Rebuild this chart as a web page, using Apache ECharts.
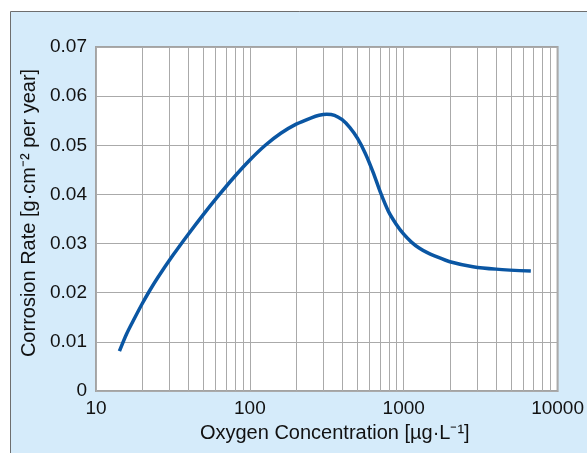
<!DOCTYPE html>
<html>
<head>
<meta charset="utf-8">
<script src="https://cdn.jsdelivr.net/npm/echarts@6/dist/echarts.min.js"></script>
<style>
html,body{margin:0;padding:0;background:#fff;}
#chart{width:587px;height:453px;}
</style>
</head>
<body>
<div id="chart"></div>
<script>
// Oxygen concentration (µg/L) and corrosion rate (g·cm^-2 per year)
var oxygen = [14.2, 15.8, 17.8, 20.0, 22.4, 25.1, 31.6, 39.8, 50.1, 63.1, 79.4, 100, 126, 158, 200, 251, 282, 316, 355, 398, 447, 501, 562, 631, 708, 794, 891, 1000, 1122, 1259, 1413, 1585, 1995, 2818, 3981, 6700];
var corrosion = [0.0081, 0.0116, 0.0148, 0.0178, 0.0205, 0.0230, 0.0276, 0.0319, 0.0360, 0.0399, 0.0436, 0.0470, 0.0500, 0.0524, 0.0543, 0.0556, 0.0561, 0.0563, 0.0561, 0.0552, 0.0536, 0.0514, 0.0484, 0.0446, 0.0403, 0.0366, 0.0340, 0.0319, 0.0303, 0.0291, 0.0282, 0.0275, 0.0263, 0.0253, 0.0248, 0.0244];
var xMajorTicks = [10, 100, 1000, 10000];
var xMinorTicks = [20,30,40,50,60,70,80,90,200,300,400,500,600,700,800,900,2000,3000,4000,5000,6000,7000,8000,9000];
var yTicks = [0, 0.01, 0.02, 0.03, 0.04, 0.05, 0.06, 0.07];

var FONT = '"Liberation Sans", Arial, sans-serif';
var chart = echarts.init(document.getElementById('chart'), null, {renderer: 'canvas'});
var pts = oxygen.map(function (x, i) { return [x, corrosion[i]]; });

chart.setOption({
  animation: false,
  backgroundColor: '#ffffff',
  graphic: [{
    type: 'rect', z: -10, silent: true,
    shape: {x: 10.5, y: 11.5, width: 590, height: 460},
    style: {fill: '#d5ebfa', stroke: '#6e6e6e', lineWidth: 1}
  }],
  grid: {
    left: 96, right: 29, top: 47, bottom: 62,
    show: true, backgroundColor: '#ffffff', borderColor: '#a3a3a3', borderWidth: 2
  },
  xAxis: {
    type: 'log', logBase: 10,
    min: xMajorTicks[0], max: xMajorTicks[xMajorTicks.length - 1],
    name: 'Oxygen Concentration [µg·L⁻¹]',
    nameLocation: 'middle', nameGap: 32,
    nameTextStyle: {fontFamily: FONT, fontSize: 20, color: '#111', padding: [0, 0, 0, 16]},
    axisLine: {show: false},
    axisTick: {show: false},
    axisLabel: {fontFamily: FONT, fontSize: 19, color: '#111', margin: 8,
      formatter: function (v) { return String(Math.round(v)); }},
    splitLine: {show: true, lineStyle: {color: '#aaaaaa', width: 1}}
  },
  yAxis: {
    type: 'value', min: yTicks[0], max: yTicks[yTicks.length - 1], interval: 0.01,
    name: 'Corrosion Rate [g·cm⁻² per year]',
    nameLocation: 'middle', nameGap: 56, nameRotate: 90,
    nameTextStyle: {fontFamily: FONT, fontSize: 20, color: '#111', padding: [0, 0, 0, 12]},
    axisLine: {show: false},
    axisTick: {show: false},
    axisLabel: {fontFamily: FONT, fontSize: 19, color: '#111', margin: 9,
      formatter: function (v) { return v === 0 ? '0' : v.toFixed(2); }},
    splitLine: {show: true, lineStyle: {color: '#aaaaaa', width: 1}}
  },
  series: [{
    type: 'line', data: [], silent: true, z: 1,
    markLine: {
      silent: true, symbol: 'none', animation: false,
      label: {show: false},
      lineStyle: {color: '#aaaaaa', width: 1, type: 'solid'},
      data: xMinorTicks.map(function (v) { return {xAxis: v}; })
    }
  }, {
    type: 'line', data: pts, smooth: 0.3, showSymbol: false, z: 5,
    lineStyle: {color: '#0a56a3', width: 3.5},
    itemStyle: {color: '#0a56a3'}
  }]
});
</script>
</body>
</html>
